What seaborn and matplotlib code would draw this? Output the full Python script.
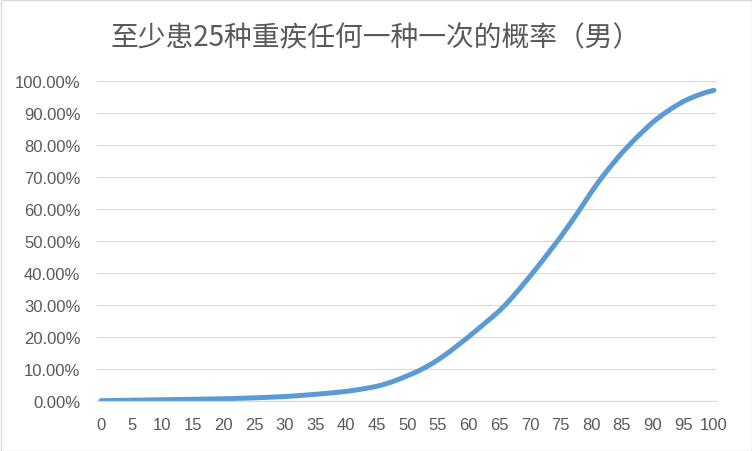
import matplotlib
matplotlib.use("Agg")
import matplotlib.pyplot as plt
import seaborn as sns
import pandas as pd
from matplotlib.ticker import FuncFormatter
from matplotlib.patches import Rectangle

title = "至少患25种重疾任何一种一次的概率（男）"
ages = list(range(0, 101))
prob_pct = [
    0.00, 0.03, 0.06, 0.09, 0.12, 0.15, 0.18, 0.21, 0.24, 0.27,
    0.30, 0.33, 0.36, 0.39, 0.42, 0.45, 0.48, 0.51, 0.54, 0.57,
    0.60, 0.65, 0.71, 0.77, 0.83, 0.90, 0.97, 1.05, 1.13, 1.21,
    1.30, 1.42, 1.55, 1.70, 1.85, 2.00, 2.16, 2.33, 2.51, 2.70,
    2.90, 3.18, 3.47, 3.78, 4.12, 4.50, 5.00, 5.60, 6.25, 7.00,
    7.80, 8.60, 9.50, 10.50, 11.60, 12.80, 14.10, 15.50, 17.00, 18.50,
    20.00, 21.60, 23.20, 24.80, 26.40, 28.10, 30.00, 32.10, 34.30, 36.60,
    38.90, 41.30, 43.70, 46.20, 48.70, 51.20, 53.90, 56.60, 59.40, 62.30,
    65.20, 67.90, 70.50, 72.90, 75.20, 77.50, 79.50, 81.50, 83.40, 85.20,
    87.00, 88.50, 89.90, 91.20, 92.40, 93.50, 94.40, 95.20, 95.90, 96.50,
    97.00,
]
x_ticks = list(range(0, 101, 5))
y_ticks = list(range(0, 101, 10))

sns.set_theme(style="white")
plt.rcParams['font.family'] = ['Liberation Sans', 'Noto Sans CJK SC', 'DejaVu Sans']

df = pd.DataFrame({"age": ages, "p": prob_pct})

fig = plt.figure(figsize=(7.52, 4.52), dpi=100)
ax = fig.add_axes([97/752, 1 - 401.7/452, (717-97)/752, (401.7-81.7)/452])

sns.lineplot(data=df, x="age", y="p", ax=ax, color="#5B9BD5", linewidth=3.6,
             solid_capstyle="round", solid_joinstyle="round")

ax.set_xlim(-0.65, 100.5)
ax.set_ylim(0, 100)
ax.set_xticks(x_ticks)
ax.set_yticks(y_ticks)
ax.yaxis.set_major_formatter(FuncFormatter(lambda v, pos: f"{v:.2f}%"))
ax.grid(axis="y", color="#D9D9D9", linewidth=0.8)
ax.grid(axis="x", visible=False)
ax.set_axisbelow(True)
for s in ["top", "right", "left"]:
    ax.spines[s].set_visible(False)
ax.spines["bottom"].set_color("#D9D9D9")
ax.spines["bottom"].set_linewidth(0.8)
ax.tick_params(axis="y", length=0, pad=12, labelsize=12, labelcolor="#595959")
ax.tick_params(axis="x", length=0, pad=12, labelsize=12, labelcolor="#595959")
ax.set_xlabel("")
ax.set_ylabel("")

fig.text(0.5, 1 - 38/452, title, ha="center", va="center", fontsize=20,
         fontweight="light", color="#595959",
         family=['Noto Sans CJK SC', 'DejaVu Sans'])

fig.patches.append(Rectangle((0.5/752, 0.5/452), 1 - 1/752, 1 - 1/452,
                             transform=fig.transFigure, fill=False,
                             edgecolor="#D9D9D9", linewidth=1))

fig.savefig("out.png", dpi=100)
